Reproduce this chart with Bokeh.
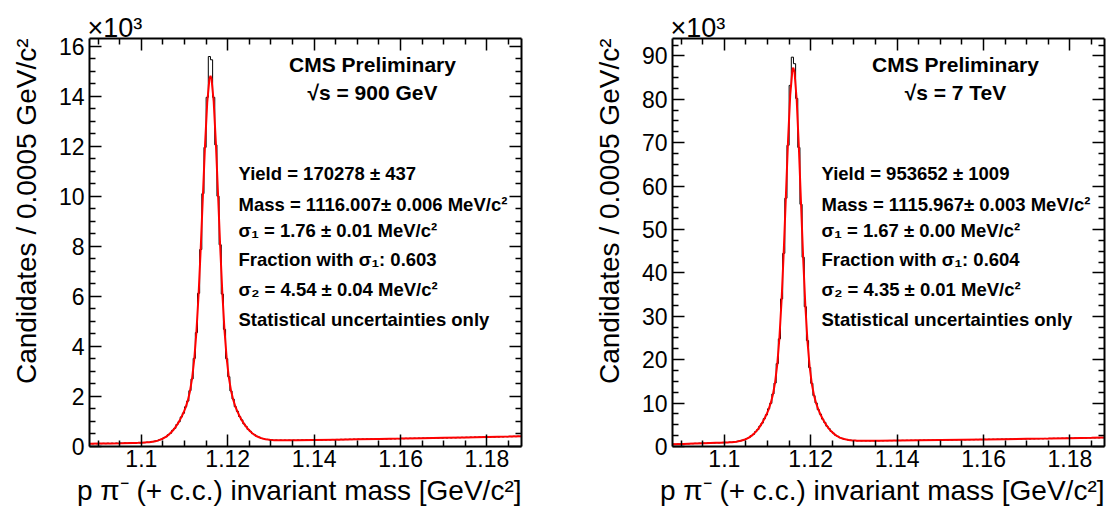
import math
import numpy as np
from bokeh.plotting import figure
from bokeh.models import Range1d, LinearAxis, FixedTicker, Label, Title, CustomJSTickFormatter
from bokeh.layouts import row
from bokeh.embed import file_html
from bokeh.resources import INLINE

# ---------------- data ----------------
X_MIN, X_MAX = 1.088, 1.188
BIN_W = 0.0005  # GeV per bin

# 900 GeV histogram, candidates per bin (x10^3), 200 bins from 1.088 to 1.188
counts_900 = [
    0.118, 0.105, 0.121, 0.109, 0.124, 0.112, 0.127, 0.113, 0.130, 0.118,
    0.131, 0.120, 0.137, 0.124, 0.140, 0.127, 0.143, 0.129, 0.146, 0.133,
    0.149, 0.138, 0.155, 0.144, 0.162, 0.152, 0.173, 0.166, 0.190, 0.189,
    0.222, 0.228, 0.272, 0.290, 0.352, 0.386, 0.470, 0.528, 0.645, 0.727,
    0.878, 0.990, 1.180, 1.330, 1.585, 1.815, 2.230, 2.700, 3.520, 4.550,
    6.120, 7.870, 10.100, 11.950, 13.950, 15.580, 15.450, 13.950, 12.050, 10.000,
    8.060, 6.090, 4.680, 3.510, 2.790, 2.220, 1.895, 1.590, 1.405, 1.198,
    1.063, 0.905, 0.801, 0.679, 0.607, 0.515, 0.467, 0.401, 0.374, 0.329,
    0.317, 0.284, 0.285, 0.259, 0.266, 0.247, 0.258, 0.241, 0.255, 0.240,
    0.254, 0.242, 0.256, 0.243, 0.257, 0.245, 0.260, 0.247, 0.263, 0.250,
    0.266, 0.252, 0.268, 0.255, 0.270, 0.257, 0.273, 0.259, 0.276, 0.262,
    0.278, 0.264, 0.281, 0.267, 0.283, 0.270, 0.286, 0.272, 0.289, 0.275,
    0.291, 0.277, 0.294, 0.280, 0.296, 0.283, 0.299, 0.285, 0.302, 0.288,
    0.304, 0.290, 0.307, 0.293, 0.310, 0.296, 0.312, 0.299, 0.315, 0.302,
    0.318, 0.305, 0.321, 0.308, 0.324, 0.311, 0.327, 0.314, 0.330, 0.317,
    0.333, 0.320, 0.336, 0.323, 0.339, 0.326, 0.342, 0.329, 0.345, 0.332,
    0.348, 0.335, 0.351, 0.338, 0.354, 0.341, 0.358, 0.344, 0.361, 0.347,
    0.364, 0.351, 0.367, 0.354, 0.370, 0.357, 0.374, 0.360, 0.377, 0.363,
    0.380, 0.367, 0.383, 0.370, 0.387, 0.374, 0.390, 0.377, 0.394, 0.380,
    0.397, 0.384, 0.401, 0.387, 0.404, 0.391, 0.408, 0.394, 0.411, 0.398,
]

# 900 GeV fit curve (x10^3)
fit_x_900 = [
    1.088, 1.0905, 1.093, 1.0955, 1.098,
    1.09875, 1.09925, 1.09975, 1.10025, 1.10075, 1.10125, 1.10175, 1.10225, 1.10275, 1.10325,
    1.10375, 1.10425, 1.10475, 1.10525, 1.10575, 1.10625, 1.10675, 1.10725, 1.10775, 1.10825,
    1.10875, 1.10925, 1.10975, 1.11025, 1.11075, 1.11125, 1.11175, 1.11225, 1.11275, 1.11325,
    1.11375, 1.11425, 1.11475, 1.11525, 1.11575, 1.116007, 1.11625, 1.11675, 1.11725, 1.11775,
    1.11825, 1.11875, 1.11925, 1.11975, 1.12025, 1.12075, 1.12125, 1.12175, 1.12225, 1.12275,
    1.12325, 1.12375, 1.12425, 1.12475, 1.12525, 1.12575, 1.12625, 1.12675, 1.12725, 1.12775,
    1.12825, 1.12875, 1.12925, 1.12975, 1.13025, 1.13075, 1.13125, 1.13175, 1.13225, 1.13275,
    1.13325, 1.13375, 1.13425,
    1.136, 1.14, 1.145, 1.15, 1.155, 1.16, 1.165, 1.17, 1.175, 1.18, 1.185, 1.188,
]
fit_y_900 = [
    0.110, 0.117, 0.124, 0.131, 0.141,
    0.144, 0.146, 0.150, 0.153, 0.159, 0.165, 0.172, 0.183, 0.196, 0.213,
    0.236, 0.263, 0.298, 0.341, 0.395, 0.461, 0.539, 0.631, 0.739, 0.863,
    1.004, 1.163, 1.347, 1.562, 1.833, 2.199, 2.722, 3.486, 4.581, 6.070,
    7.928, 10.018, 12.067, 13.732, 14.675, 14.804, 14.689, 13.774, 12.130, 10.088,
    7.998, 6.134, 4.638, 3.535, 2.765, 2.240, 1.875, 1.605, 1.391, 1.210,
    1.052, 0.914, 0.792, 0.687, 0.598, 0.522, 0.459, 0.409, 0.367, 0.336,
    0.310, 0.291, 0.277, 0.266, 0.259, 0.254, 0.251, 0.248, 0.248, 0.247,
    0.247, 0.248, 0.249,
    0.252, 0.262, 0.274, 0.288, 0.301, 0.315, 0.330, 0.346, 0.362, 0.378, 0.395, 0.406,
]

# 7 TeV histogram, candidates per bin (x10^3)
counts_7 = [
    0.55, 0.51, 0.59, 0.54, 0.63, 0.58, 0.66, 0.61, 0.70, 0.65,
    0.73, 0.68, 0.76, 0.71, 0.79, 0.74, 0.82, 0.77, 0.84, 0.80,
    0.87, 0.83, 0.91, 0.87, 0.95, 0.91, 1.00, 0.97, 1.10, 1.09,
    1.24, 1.27, 1.48, 1.57, 1.87, 2.05, 2.50, 2.80, 3.42, 3.90,
    4.71, 5.38, 6.42, 7.30, 8.68, 9.95, 12.10, 14.62, 19.10, 24.80,
    34.00, 44.50, 57.20, 69.40, 83.20, 89.70, 88.20, 80.20, 68.90, 55.80,
    43.60, 32.20, 24.40, 18.20, 14.55, 11.72, 10.04, 8.48, 7.45, 6.32,
    5.56, 4.68, 4.12, 3.46, 3.07, 2.60, 2.34, 2.03, 1.89, 1.68,
    1.62, 1.47, 1.47, 1.36, 1.40, 1.31, 1.36, 1.29, 1.35, 1.29,
    1.35, 1.29, 1.35, 1.30, 1.36, 1.31, 1.37, 1.32, 1.38, 1.33,
    1.39, 1.34, 1.40, 1.35, 1.41, 1.36, 1.42, 1.37, 1.43, 1.38,
    1.44, 1.39, 1.45, 1.40, 1.46, 1.41, 1.48, 1.42, 1.49, 1.43,
    1.50, 1.45, 1.51, 1.46, 1.52, 1.47, 1.54, 1.48, 1.55, 1.49,
    1.56, 1.51, 1.57, 1.52, 1.59, 1.53, 1.60, 1.55, 1.61, 1.56,
    1.63, 1.58, 1.64, 1.59, 1.66, 1.60, 1.67, 1.62, 1.68, 1.63,
    1.70, 1.65, 1.71, 1.66, 1.73, 1.67, 1.74, 1.69, 1.75, 1.70,
    1.77, 1.72, 1.78, 1.73, 1.80, 1.74, 1.81, 1.76, 1.82, 1.77,
    1.84, 1.79, 1.86, 1.80, 1.87, 1.82, 1.89, 1.84, 1.90, 1.85,
    1.92, 1.87, 1.94, 1.88, 1.95, 1.90, 1.97, 1.92, 1.98, 1.93,
    2.00, 1.95, 2.01, 1.96, 2.03, 1.98, 2.04, 1.99, 2.06, 2.01,
]

fit_x_7 = [
    1.088, 1.0905, 1.093, 1.0955, 1.098,
    1.09875, 1.09925, 1.09975, 1.10025, 1.10075, 1.10125, 1.10175, 1.10225, 1.10275, 1.10325,
    1.10375, 1.10425, 1.10475, 1.10525, 1.10575, 1.10625, 1.10675, 1.10725, 1.10775, 1.10825,
    1.10875, 1.10925, 1.10975, 1.11025, 1.11075, 1.11125, 1.11175, 1.11225, 1.11275, 1.11325,
    1.11375, 1.11425, 1.11475, 1.11525, 1.11575, 1.115967, 1.11625, 1.11675, 1.11725, 1.11775,
    1.11825, 1.11875, 1.11925, 1.11975, 1.12025, 1.12075, 1.12125, 1.12175, 1.12225, 1.12275,
    1.12325, 1.12375, 1.12425, 1.12475, 1.12525, 1.12575, 1.12625, 1.12675, 1.12725, 1.12775,
    1.12825, 1.12875, 1.12925, 1.12975, 1.13025, 1.13075, 1.13125, 1.13175, 1.13225, 1.13275,
    1.13325, 1.13375, 1.13425,
    1.136, 1.14, 1.145, 1.15, 1.155, 1.16, 1.165, 1.17, 1.175, 1.18, 1.185, 1.188,
]
fit_y_7 = [
    0.51, 0.60, 0.69, 0.77, 0.84,
    0.86, 0.87, 0.90, 0.92, 0.94, 0.97, 1.00, 1.06, 1.12, 1.20,
    1.31, 1.44, 1.61, 1.82, 2.10, 2.44, 2.85, 3.36, 3.95, 4.64,
    5.44, 6.34, 7.37, 8.58, 10.05, 11.98, 14.76, 18.91, 25.04, 33.68,
    44.84, 57.71, 70.55, 80.96, 86.67, 87.27, 86.26, 79.84, 68.97, 56.01,
    43.30, 32.47, 24.18, 18.36, 14.43, 11.81, 9.96, 8.55, 7.38, 6.38,
    5.50, 4.73, 4.07, 3.50, 3.03, 2.63, 2.31, 2.06, 1.86, 1.71,
    1.59, 1.50, 1.44, 1.39, 1.37, 1.34, 1.33, 1.32, 1.32, 1.32,
    1.32, 1.32, 1.32,
    1.34, 1.38, 1.43, 1.49, 1.555, 1.625, 1.695, 1.765, 1.835, 1.915, 1.995, 2.045,
]

x_major = [1.10, 1.12, 1.14, 1.16, 1.18]
x_minor = [1.090, 1.095, 1.105, 1.110, 1.115, 1.125, 1.130, 1.135,
           1.145, 1.150, 1.155, 1.165, 1.170, 1.175, 1.185]
y_major_900 = [0, 2, 4, 6, 8, 10, 12, 14, 16]
y_minor_900 = [i * 0.5 for i in range(1, 33) if i % 4]
y_major_7 = [0, 10, 20, 30, 40, 50, 60, 70, 80, 90]
y_minor_7 = [i * 2.5 for i in range(1, 38) if i % 4]
Y_MAX_900 = 16.3
Y_MAX_7 = 94.0

header_900 = ["CMS Preliminary", "√s = 900 GeV"]
header_7 = ["CMS Preliminary", "√s = 7 TeV"]
stats_900 = ["Yield = 170278 ± 437",
             "Mass = 1116.007± 0.006 MeV/c²",
             "σ₁ = 1.76 ± 0.01 MeV/c²",
             "Fraction with σ₁: 0.603",
             "σ₂ = 4.54 ± 0.04 MeV/c²",
             "Statistical uncertainties only"]
stats_7 = ["Yield = 953652 ± 1009",
           "Mass = 1115.967± 0.003 MeV/c²",
           "σ₁ = 1.67 ± 0.00 MeV/c²",
           "Fraction with σ₁: 0.604",
           "σ₂ = 4.35 ± 0.01 MeV/c²",
           "Statistical uncertainties only"]
y_title = "Candidates / 0.0005 GeV/c²"
x_title = "p π⁻ (+ c.c.) invariant mass [GeV/c²]"
exp_label = "×10³"

# ---------------- layout / style ----------------
FONT = "Liberation Sans"
FRAME_W, FRAME_H = 432, 409
HEADER_DY = [26.5, 54.5]
STATS_DY = [135.2, 166.2, 192.8, 221.2, 251.8, 281.2]


def style_axis(ax, labels=True):
    ax.axis_line_color = "black"
    ax.axis_line_width = 2
    ax.major_tick_in = 12
    ax.major_tick_out = 0
    ax.minor_tick_in = 6
    ax.minor_tick_out = 0
    ax.major_tick_line_color = "black"
    ax.minor_tick_line_color = "black"
    ax.major_tick_line_width = 1.5
    ax.minor_tick_line_width = 1.5
    ax.major_label_text_font = FONT
    ax.major_label_text_color = "black"
    ax.major_label_text_font_size = "23px"
    if not labels:
        ax.formatter = CustomJSTickFormatter(code="return ''")
        ax.major_label_standoff = 0


def make_plot(counts, fit_x, fit_y, y_max, y_major, y_minor, header, stats,
              width, border_left, border_right):
    p = figure(width=width, height=508,
               x_range=Range1d(X_MIN, X_MAX), y_range=Range1d(0, y_max),
               x_axis_type=None, y_axis_type=None,
               output_backend="svg", toolbar_location=None,
               min_border_left=border_left, min_border_right=border_right,
               min_border_top=38, min_border_bottom=61)
    p.outline_line_color = None
    p.background_fill_color = "white"
    p.border_fill_color = "white"

    xt = FixedTicker(ticks=x_major, minor_ticks=x_minor)
    yt = FixedTicker(ticks=y_major, minor_ticks=y_minor)
    fmt = CustomJSTickFormatter(code="return String(Math.round(tick*100)/100)")

    bottom = LinearAxis(ticker=xt, formatter=fmt)
    style_axis(bottom)
    bottom.major_label_standoff = 3
    p.add_layout(bottom, "below")
    top = LinearAxis(ticker=xt)
    style_axis(top, labels=False)
    p.add_layout(top, "above")
    left = LinearAxis(ticker=yt)
    style_axis(left)
    left.major_label_standoff = 5
    p.add_layout(left, "left")
    right = LinearAxis(ticker=yt)
    style_axis(right, labels=False)
    p.add_layout(right, "right")

    # invisible spacer between the tick labels and the y title
    spacer = LinearAxis(ticker=FixedTicker(ticks=[y_major[0]]),
                        formatter=CustomJSTickFormatter(code="return ''"),
                        axis_line_color=None, major_tick_line_color=None,
                        minor_tick_line_color=None, major_tick_in=0, major_tick_out=6,
                        minor_tick_in=0, minor_tick_out=0, major_label_standoff=0)
    p.add_layout(spacer, "left")

    # axis titles, ROOT style: aligned to the end of the axis
    p.add_layout(Title(text=y_title, align="right",
                       text_font=FONT, text_font_size="28px",
                       text_font_style="normal", text_color="black", standoff=16), "left")
    p.add_layout(Title(text=x_title, align="right", text_font=FONT, text_font_size="28px",
                       text_font_style="normal", text_color="black", standoff=6), "below")
    p.title.text = exp_label
    p.title.align = "left"
    p.title.offset = -2
    p.title.text_font = FONT
    p.title.text_font_size = "27px"
    p.title.text_font_style = "normal"
    p.title.text_color = "black"
    p.title.standoff = -9

    # histogram as steps over the bin edges
    edges = X_MIN + BIN_W * np.arange(len(counts) + 1)
    xs = np.repeat(edges, 2)[1:-1]
    ys = np.repeat(np.asarray(counts, dtype=float), 2)
    p.line(xs, ys, line_color="black", line_width=1)
    p.line(fit_x, fit_y, line_color="red", line_width=2)

    def to_data(dx, dy):
        return (X_MIN + dx / FRAME_W * (X_MAX - X_MIN),
                y_max - dy / FRAME_H * y_max)

    for txt, dy in zip(header, HEADER_DY):
        x, y = to_data(283, dy)
        p.add_layout(Label(x=x, y=y, text=txt, text_font=FONT, text_font_size="21px",
                           text_font_style="bold", text_align="center",
                           text_baseline="alphabetic", text_color="black"))
    for txt, dy in zip(stats, STATS_DY):
        x, y = to_data(149, dy)
        p.add_layout(Label(x=x, y=y, text=txt, text_font=FONT, text_font_size="18.5px",
                           text_font_style="bold", text_align="left",
                           text_baseline="alphabetic", text_color="black"))
    return p


p1 = make_plot(counts_900, fit_x_900, fit_y_900, Y_MAX_900, y_major_900, y_minor_900,
               header_900, stats_900, width=553, border_left=89, border_right=32)
p2 = make_plot(counts_7, fit_x_7, fit_y_7, Y_MAX_7, y_major_7, y_minor_7,
               header_7, stats_7, width=553, border_left=119, border_right=2)

layout = row(p1, p2)
open("out.html", "w").write(file_html(layout, INLINE))
